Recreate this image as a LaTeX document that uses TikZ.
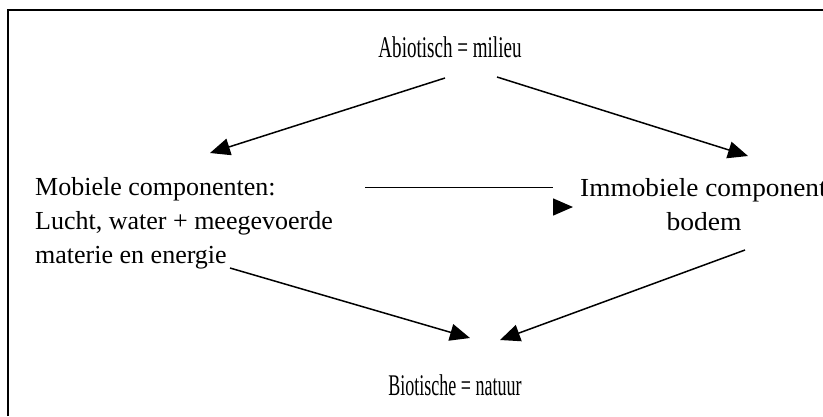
\documentclass[tikz,border=0pt]{standalone}
\usepackage{fontspec}
\setmainfont{Liberation Serif}
\usetikzlibrary{arrows.meta}
\begin{document}
\begin{tikzpicture}[x=1pt,y=-1pt,
  lbl/.style={inner sep=0pt,font=\fontsize{30}{34}\selectfont},
  wide/.style={inner sep=0pt,font=\fontsize{26}{34}\selectfont},
  conn/.style={line width=1.5pt,-{Triangle[length=20pt,width=17pt]}},
  plain/.style={line width=1pt}]
\useasboundingbox (0,0) rectangle (823,416);
\clip (0,0) rectangle (823,416);
\draw[line width=2pt] (8,416) -- (8,10) -- (823,10);
\node[lbl] (abio) at (450,47) {\scalebox{0.635}[1]{Abiotisch = milieu}};
\node[wide,anchor=north west,align=left] (mob) at (35,177) {Mobiele componenten:\\Lucht, water + meegevoerde\\materie en energie};
\node[wide,anchor=north west] (imm) at (580,178) {\scalebox{1.05}[1]{Immobiele componenten:}};
\node[wide,anchor=north] (immb) at (704,212) {\scalebox{1.06}[1]{bodem}};
\node[lbl] (bio) at (455,385) {\scalebox{0.6}[1]{Biotische = natuur}};
\coordinate (a1) at (445,78);
\coordinate (a2) at (497,77);
\coordinate (m1) at (210,153);
\coordinate (i1) at (748,156);
\coordinate (h1) at (365,187);
\coordinate (h2) at (553,187);
\coordinate (h3) at (556,207);
\coordinate (h4) at (573,207);
\coordinate (m2) at (230,268);
\coordinate (b1) at (470,338);
\coordinate (i2) at (745,250);
\coordinate (b2) at (500,340);
\draw[conn] (a1) -- (m1);
\draw[conn] (a2) -- (i1);
\draw[plain] (h1) -- (h2);
\draw[conn] (h3) -- (h4);
\draw[conn] (m2) -- (b1);
\draw[conn] (i2) -- (b2);
\end{tikzpicture}
\end{document}
